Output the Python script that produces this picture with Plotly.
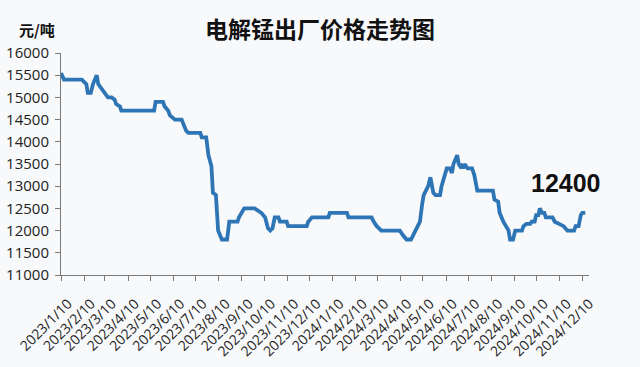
import plotly.graph_objects as go

# Price series (yuan/ton)
dates = [
    "2023-01-10", "2023-01-14", "2023-02-07", "2023-02-13", "2023-02-15", "2023-02-19",
    "2023-02-22", "2023-02-27", "2023-03-01", "2023-03-05", "2023-03-10", "2023-03-14",
    "2023-03-19", "2023-03-23", "2023-03-25", "2023-03-30", "2023-04-01", "2023-05-15",
    "2023-05-17", "2023-05-27", "2023-05-29", "2023-06-03", "2023-06-05", "2023-06-12",
    "2023-06-21", "2023-06-23", "2023-06-27", "2023-06-30", "2023-07-16", "2023-07-18",
    "2023-07-24", "2023-07-27", "2023-07-31", "2023-08-02", "2023-08-06", "2023-08-09",
    "2023-08-14", "2023-08-21", "2023-08-24", "2023-09-04", "2023-09-06", "2023-09-13",
    "2023-09-27", "2023-10-06", "2023-10-11", "2023-10-15", "2023-10-18", "2023-10-21",
    "2023-10-24", "2023-10-29", "2023-10-31", "2023-11-09", "2023-11-11", "2023-12-06",
    "2023-12-08", "2023-12-13", "2024-01-04", "2024-01-06", "2024-01-29", "2024-01-31",
    "2024-03-02", "2024-03-05", "2024-03-09", "2024-03-15", "2024-04-09", "2024-04-13",
    "2024-04-18", "2024-04-24", "2024-04-27", "2024-05-02", "2024-05-06", "2024-05-09",
    "2024-05-11", "2024-05-14", "2024-05-17", "2024-05-20", "2024-05-22", "2024-05-24",
    "2024-05-27", "2024-06-02", "2024-06-04", "2024-06-08", "2024-06-11", "2024-06-15",
    "2024-06-18", "2024-06-20", "2024-06-25", "2024-06-27", "2024-06-29", "2024-07-01",
    "2024-07-03", "2024-07-05", "2024-07-09", "2024-07-15", "2024-07-18", "2024-07-22",
    "2024-08-12", "2024-08-14", "2024-08-19", "2024-08-21", "2024-08-26", "2024-09-02",
    "2024-09-04", "2024-09-08", "2024-09-11", "2024-09-20", "2024-09-22", "2024-09-26",
    "2024-10-01", "2024-10-03", "2024-10-07", "2024-10-09", "2024-10-12", "2024-10-14",
    "2024-10-17", "2024-10-20", "2024-10-22", "2024-10-28", "2024-10-31", "2024-11-03",
    "2024-11-08", "2024-11-15", "2024-11-20", "2024-11-29", "2024-12-01", "2024-12-05",
    "2024-12-08", "2024-12-10", "2024-12-14",
]
prices = [
    15550, 15400, 15400, 15300, 15100, 15100,
    15300, 15500, 15300, 15200, 15100, 15000,
    15000, 14950, 14850, 14800, 14700, 14700,
    14900, 14900, 14800, 14700, 14600, 14500,
    14500, 14400, 14250, 14200, 14200, 14100,
    14100, 13700, 13450, 12850, 12800, 12000,
    11800, 11800, 12200, 12200, 12300, 12500,
    12500, 12400, 12300, 12050, 12000, 12050,
    12300, 12300, 12200, 12200, 12100, 12100,
    12200, 12300, 12300, 12400, 12400, 12300,
    12300, 12200, 12100, 12000, 12000, 11900,
    11800, 11800, 11900, 12050, 12200, 12600,
    12800, 12900, 13000, 13200, 13000, 12850,
    12800, 12800, 13000, 13250, 13400, 13400,
    13300, 13500, 13700, 13500, 13450, 13500,
    13400, 13500, 13400, 13400, 13250, 12900,
    12900, 12700, 12650, 12400, 12200, 12000,
    11800, 11800, 12000, 12000, 12100, 12150,
    12150, 12200, 12200, 12350, 12350, 12500,
    12400, 12400, 12300, 12300, 12300, 12200,
    12150, 12100, 12000, 12000, 12100, 12100,
    12350, 12400, 12400,
]

tick_dates = [
    "2023-01-10", "2023-02-10", "2023-03-10", "2023-04-10", "2023-05-10", "2023-06-10",
    "2023-07-10", "2023-08-10", "2023-09-10", "2023-10-10", "2023-11-10", "2023-12-10",
    "2024-01-10", "2024-02-10", "2024-03-10", "2024-04-10", "2024-05-10", "2024-06-10",
    "2024-07-10", "2024-08-10", "2024-09-10", "2024-10-10", "2024-11-10", "2024-12-10",
]
tick_labels = [
    "2023/1/10", "2023/2/10", "2023/3/10", "2023/4/10", "2023/5/10", "2023/6/10",
    "2023/7/10", "2023/8/10", "2023/9/10", "2023/10/10", "2023/11/10", "2023/12/10",
    "2024/1/10", "2024/2/10", "2024/3/10", "2024/4/10", "2024/5/10", "2024/6/10",
    "2024/7/10", "2024/8/10", "2024/9/10", "2024/10/10", "2024/11/10", "2024/12/10",
]
y_ticks = [11000, 11500, 12000, 12500, 13000, 13500, 14000, 14500, 15000, 15500, 16000]
y_tick_labels = ["11000", "11500", "12000", "12500", "13000", "13500",
                 "14000", "14500", "15000", "15500", "16000"]

title_text = "电解锰出厂价格走势图"
unit_text = "元/吨"
last_label = "12400"

bg = "#f8f9fb"
axis_col = "#7a7a7a"
tick_font = dict(family="Open Sans, Noto Sans, sans-serif", size=14, color="#222222")
ytick_font = dict(family="Open Sans, Noto Sans, sans-serif", size=15, color="#222222")

fig = go.Figure()
fig.add_trace(go.Scatter(
    x=dates, y=prices, mode="lines",
    line=dict(color="#2e75b6", width=3.8),
    showlegend=False, hoverinfo="skip",
))

fig.update_layout(
    width=640, height=367,
    margin=dict(l=61, r=51, t=53, b=92),
    paper_bgcolor=bg, plot_bgcolor=bg,
    title=dict(
        text=title_text, xref="container", x=0.5, xanchor="center",
        yref="container", y=1 - 30 / 367, yanchor="middle",
        font=dict(family="Noto Sans CJK SC", size=23, color="#111111", weight="bold"),
    ),
    xaxis=dict(
        type="date", range=["2023-01-10", "2024-12-19"],
        tickvals=tick_dates, ticktext=tick_labels, tickangle=-45,
        showgrid=False, zeroline=False, automargin=False,
        showline=True, linecolor=axis_col, linewidth=1,
        ticks="outside", ticklen=5, tickcolor=axis_col,
        tickfont=tick_font, ticklabelstandoff=9, ticklabelshift=7,
    ),
    yaxis=dict(
        range=[11000, 16000], tickvals=y_ticks, ticktext=y_tick_labels,
        showgrid=False, zeroline=False, automargin=False,
        showline=True, linecolor=axis_col, linewidth=1,
        ticks="outside", ticklen=5, tickcolor=axis_col,
        tickfont=ytick_font, ticklabelstandoff=3,
    ),
)

fig.add_annotation(
    xref="paper", yref="paper", x=-0.045, y=1 + 23 / 222, xanchor="center", yanchor="middle",
    text=unit_text, showarrow=False,
    font=dict(family="Noto Sans CJK SC", size=15, color="#111111", weight="bold"),
)

fig.add_annotation(
    x=dates[-1], y=prices[-1], text=last_label, showarrow=False,
    xanchor="center", yanchor="middle", xshift=-19, yshift=30,
    font=dict(family="Liberation Sans, Arial, sans-serif", size=25, color="#111111", weight="bold"),
)

fig.write_html("out.html")
